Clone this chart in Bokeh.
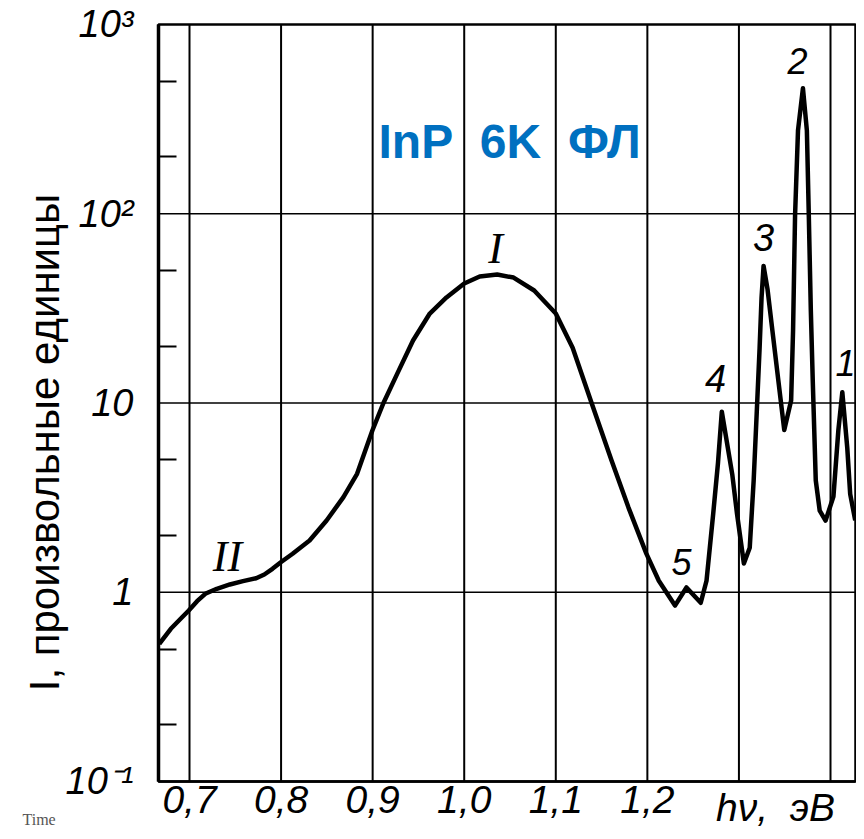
import math
from bokeh.plotting import figure
from bokeh.models import FixedTicker, Label
from bokeh.embed import file_html
from bokeh.resources import INLINE

# ---- data (photon energy, eV ; PL intensity, arb. units) ----
energy = [0.667, 0.6796, 0.6903, 0.6992, 0.7083, 0.7172, 0.7298, 0.7441, 0.7584, 0.7728,
          0.7817, 0.7906, 0.7997, 0.8126, 0.8311, 0.8497, 0.8681, 0.8830, 0.8997,
          0.9118, 0.9269, 0.9441, 0.9624, 0.9806, 1.000, 1.0169,
          1.0360, 1.0539, 1.0764, 1.100, 1.1184, 1.1391, 1.1609, 1.1793, 1.1989, 1.2125,
          1.2302, 1.2427, 1.2583, 1.2646, 1.2719, 1.2771, 1.2813, 1.2927, 1.2979, 1.3054,
          1.3118, 1.3161, 1.3194, 1.3226, 1.3247, 1.3269, 1.3312, 1.3366, 1.3430, 1.3495,
          1.3570, 1.3591, 1.3613, 1.3645, 1.3699, 1.3742, 1.3763, 1.3785, 1.3806, 1.3839,
          1.3882, 1.3946, 1.4032, 1.4086, 1.4129, 1.4183, 1.4215, 1.4270]
intensity = [0.534, 0.641, 0.724, 0.801, 0.897, 0.981, 1.043, 1.099, 1.144, 1.186,
             1.241, 1.330, 1.441, 1.597, 1.877, 2.394, 3.180, 4.227, 7.155,
             10.0, 14.3, 21.4, 29.7, 36.1, 42.8, 46.6,
             47.7, 46.0, 39.3, 29.7, 19.6, 10.0, 4.97, 2.81, 1.60, 1.15,
             0.85, 1.06, 0.88, 1.15, 2.6, 4.8, 9.0, 4.2, 2.6, 1.42,
             1.72, 3.9, 8.8, 19.6, 36.0, 53.0, 40.0, 24.0, 13.2, 7.2,
             10.3, 24.0, 98.0, 275.0, 460.0, 275.0, 98.0, 31.0, 13.2, 3.9,
             2.7, 2.39, 3.2, 7.2, 11.4, 5.8, 3.3, 2.4]

x_lim = (0.6661, 1.4273)          # plotted box, eV
y_lim = (0.1, 1000)               # plotted box, arb. units
x_ticks = [0.7, 0.8, 0.9, 1.0, 1.1, 1.2]
x_tick_labels = ["0,7", "0,8", "0,9", "1,0", "1,1", "1,2"]
x_grid = [0.7, 0.8, 0.9, 1.0, 1.1, 1.2, 1.3, 1.4]
y_ticks = [0.1, 1, 10, 100, 1000]
y_tick_labels = ["10\u207b\u00b9", "1", "10", "10\u00b2", "10\u00b3"]
y_minor = [0.2, 0.5, 2, 5, 20, 50, 200, 500]
y_grid = [1, 10, 100]
x_title = "hν,\u00a0\u00a0эВ"
y_title = "I, произвольные единицы"
inset_title = "InP\u00a0\u00a06K\u00a0\u00a0ФЛ"
peak_names = ["1", "2", "3", "4", "5"]
band_names = ["I", "II"]

SANS = "Liberation Sans"
SERIF = "Liberation Serif"
W, H = 856, 831

p = figure(width=W, height=H, y_axis_type="log",
           x_range=(0.49360, 1.42839), y_range=(0.05441, 1339.1),
           output_backend="svg", toolbar_location=None,
           min_border_left=0, min_border_right=0,
           min_border_top=0, min_border_bottom=0)
p.background_fill_color = "white"
p.border_fill_color = "white"
p.outline_line_color = None
p.xgrid.visible = False
p.ygrid.visible = False

# grid lines limited to the plotted box
p.segment(x0=x_grid, y0=[y_lim[0]] * len(x_grid), x1=x_grid, y1=[y_lim[1]] * len(x_grid),
          line_color="black", line_width=2)
p.segment(x0=[x_lim[0]] * len(y_grid), y0=y_grid, x1=[x_lim[1]] * len(y_grid), y1=y_grid,
          line_color="black", line_width=1.5)
# box
p.quad(left=[x_lim[0]], right=[x_lim[1]], bottom=[y_lim[0]], top=[y_lim[1]],
       fill_color=None, line_color="black", line_width=2.5)

p.line(energy, intensity, line_width=4.5, line_color="black", line_join="round")

# x axis, drawn at the bottom of the box
p.xaxis.fixed_location = y_lim[0]
p.xaxis.bounds = x_lim
p.xaxis.ticker = FixedTicker(ticks=x_ticks)
p.xaxis.major_label_overrides = {t: s for t, s in zip(x_ticks, x_tick_labels)}
p.xaxis.major_tick_in = 0
p.xaxis.major_tick_out = 0
p.xaxis.minor_tick_line_color = None
p.xaxis.axis_line_width = 2.5
p.xaxis.major_label_text_font = SANS
p.xaxis.major_label_text_font_style = "italic"
p.xaxis.major_label_text_font_size = "39px"
p.xaxis.major_label_text_color = "black"
p.xaxis.major_label_standoff = 5

# y axis, drawn at the left of the box
p.yaxis.fixed_location = x_lim[0]
p.yaxis.bounds = y_lim
p.yaxis.ticker = FixedTicker(ticks=y_ticks, minor_ticks=y_minor)
p.yaxis.major_label_overrides = {t: s for t, s in zip(y_ticks, y_tick_labels)}
p.yaxis.major_tick_in = 0
p.yaxis.major_tick_out = 0
p.yaxis.minor_tick_in = 18
p.yaxis.minor_tick_out = 0
p.yaxis.minor_tick_line_width = 2
p.yaxis.minor_tick_line_color = "black"
p.yaxis.axis_line_width = 3.5
p.yaxis.major_label_text_font = SANS
p.yaxis.major_label_text_font_style = "italic"
p.yaxis.major_label_text_font_size = "38px"
p.yaxis.major_label_text_color = "black"
p.yaxis.major_label_standoff = 25


def lab(text, x, y, size, font=SANS, style="italic", align="center",
        color="black", angle=0.0):
    # x, y: pixels from the top-left corner of the picture
    p.add_layout(Label(x=x, y=H - y, x_units="screen", y_units="screen", text=text,
                       text_font=font, text_font_style=style, text_font_size=size,
                       text_align=align, text_baseline="middle",
                       text_color=color, angle=angle))


lab(inset_title, 378, 141, "48px", style="bold", align="left", color="#0070C0")
lab(peak_names[1], 797, 60, "36px")
lab(peak_names[2], 763, 237, "38px")
lab(peak_names[3], 715, 378, "38px")
lab(peak_names[0], 845, 362, "36px")
lab(peak_names[4], 681, 561, "36px")
lab(band_names[0], 495, 248, "44px", font=SERIF)
lab(band_names[1], 227, 556, "44px", font=SERIF)
lab(y_title, 44, 442, "42px", style="normal", angle=math.pi / 2)
lab(x_title, 775, 807, "39px")
lab("Time", 22, 819, "16px", font=SERIF, style="normal", align="left", color="#555555")

open("out.html", "w").write(file_html(p, INLINE))
